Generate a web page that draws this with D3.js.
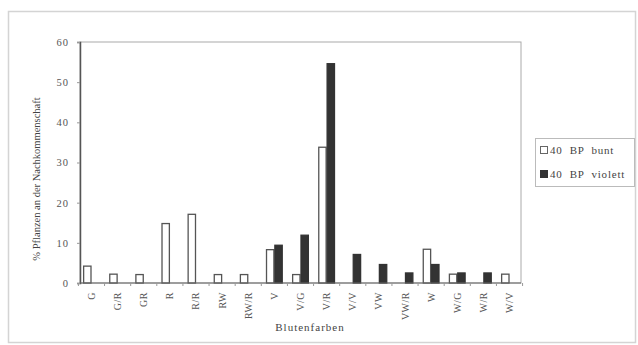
<!DOCTYPE html>
<html>
<head>
<meta charset="utf-8">
<script src="https://cdn.jsdelivr.net/npm/d3@7/dist/d3.min.js"></script>
<style>
  body { margin: 0; background: #fff; }
  svg text { font-family: "Liberation Serif", "DejaVu Serif", serif; fill: #444; }
</style>
</head>
<body>
<svg id="chart" width="638" height="345"></svg>
<script>
var categories = ["G", "G/R", "GR", "R", "R/R", "RW", "RW/R", "V", "V/G", "V/R", "V/V", "VW", "VW/R", "W", "W/G", "W/R", "W/V"];
var seriesNames = ["40 BP bunt", "40 BP violett"];
// null = kein Balken
var buntValues =    [4.2, 2.2, 2.1, 14.8, 17.1, 2.1, 2.1, 8.3, 2.1, 33.8, null, null, null, 8.4, 2.2, null, 2.2];
var violettValues = [null, null, null, null, null, null, null, 9.4, 11.9, 54.6, 7.1, 4.6, 2.5, 4.6, 2.5, 2.5, null];
var yTicks = [0, 10, 20, 30, 40, 50, 60];

var svg = d3.select("#chart");
var plotLeft = 80, plotRight = 521, plotTop = 42, plotBottom = 283;

// outer frame
svg.append("rect")
  .attr("x", 8.5).attr("y", 11.5)
  .attr("width", 627).attr("height", 331)
  .attr("fill", "none").attr("stroke", "#d4d4d4").attr("stroke-width", 1.5);

var x = d3.scaleBand().domain(categories).range([plotLeft, plotRight]).paddingInner(0.36).paddingOuter(0.12);
var x1 = d3.scaleBand().domain(seriesNames).range([0, x.bandwidth()]);
var y = d3.scaleLinear().domain([0, 60]).range([plotBottom, plotTop]);

// plot border
svg.append("rect")
  .attr("x", plotLeft).attr("y", plotTop)
  .attr("width", plotRight - plotLeft).attr("height", plotBottom - plotTop)
  .attr("fill", "none").attr("stroke", "#aaa").attr("stroke-width", 1);

var rows = categories.map(function (c, i) {
  return { cat: c, vals: [buntValues[i], violettValues[i]] };
});

var groups = svg.append("g").selectAll("g")
  .data(rows).enter().append("g")
  .attr("transform", function (d) { return "translate(" + x(d.cat) + ",0)"; });

groups.selectAll("rect")
  .data(function (d) {
    return d.vals.map(function (v, k) { return { s: seriesNames[k], k: k, v: v }; })
      .filter(function (e) { return e.v != null; });
  })
  .enter().append("rect")
  .attr("x", function (e) { return x1(e.s) + 0.5; })
  .attr("y", function (e) { return y(e.v); })
  .attr("width", x1.bandwidth() - 1)
  .attr("height", function (e) { return y(0) - y(e.v); })
  .attr("fill", function (e) { return e.k === 0 ? "#fff" : "#333"; })
  .attr("stroke", function (e) { return e.k === 0 ? "#555" : "#333"; })
  .attr("stroke-width", 1.3);

// y axis
var yAxis = svg.append("g")
  .attr("transform", "translate(" + plotLeft + ",0)")
  .call(d3.axisLeft(y).tickValues(yTicks).tickSize(3).tickPadding(8));
yAxis.select(".domain").attr("stroke", "#555").attr("stroke-width", 1.5);
yAxis.selectAll(".tick line").attr("stroke", "#999");
yAxis.selectAll("text").style("font-size", "10.5px").style("fill", "#555").style("letter-spacing", "1px");

// x axis: ticks on band boundaries
var step = x.step();
var x0 = x(categories[0]) - step * x.paddingInner() / 2;
var xAxis = svg.append("g").attr("transform", "translate(0," + plotBottom + ")");
xAxis.append("line")
  .attr("x1", plotLeft).attr("x2", plotRight)
  .attr("stroke", "#666").attr("stroke-width", 1.2);
xAxis.selectAll(".bound")
  .data(d3.range(categories.length + 1)).enter().append("line")
  .attr("x1", function (i) { return x0 + i * step; })
  .attr("x2", function (i) { return x0 + i * step; })
  .attr("y1", 0).attr("y2", 3)
  .attr("stroke", "#999");

xAxis.selectAll(".lbl")
  .data(categories).enter().append("text")
  .attr("transform", function (c) {
    return "translate(" + (x(c) + x.bandwidth() / 2 + 3.5) + ",9) rotate(-90)";
  })
  .attr("text-anchor", "end")
  .style("font-size", "10px")
  .style("letter-spacing", "0.5px")
  .style("fill", "#555")
  .text(function (c) { return c; });

// axis titles
svg.append("text")
  .attr("x", 310).attr("y", 331)
  .attr("text-anchor", "middle")
  .style("font-size", "11px")
  .style("letter-spacing", "1px")
  .text("Blutenfarben");

svg.append("text")
  .attr("transform", "translate(40,179) rotate(-90)")
  .attr("text-anchor", "middle")
  .style("font-size", "10.5px")
  .text("% Pflanzen an der Nachkommenschaft");

// legend
var lg = svg.append("g").attr("transform", "translate(535,138)");
lg.append("rect")
  .attr("x", 0.5).attr("y", 0.5).attr("width", 99).attr("height", 48)
  .attr("fill", "#fff").attr("stroke", "#bbb");
seriesNames.forEach(function (s, k) {
  lg.append("rect")
    .attr("x", 5.5).attr("y", 8.5 + k * 24).attr("width", 7).attr("height", 7)
    .attr("fill", k === 0 ? "#fff" : "#333").attr("stroke", k === 0 ? "#666" : "#333");
  lg.append("text")
    .attr("x", 15).attr("y", 16 + k * 24)
    .style("font-size", "11px")
    .style("letter-spacing", "0.8px")
    .attr("xml:space", "preserve")
    .text(s.replace(/ /g, "  "));
});
</script>
</body>
</html>
